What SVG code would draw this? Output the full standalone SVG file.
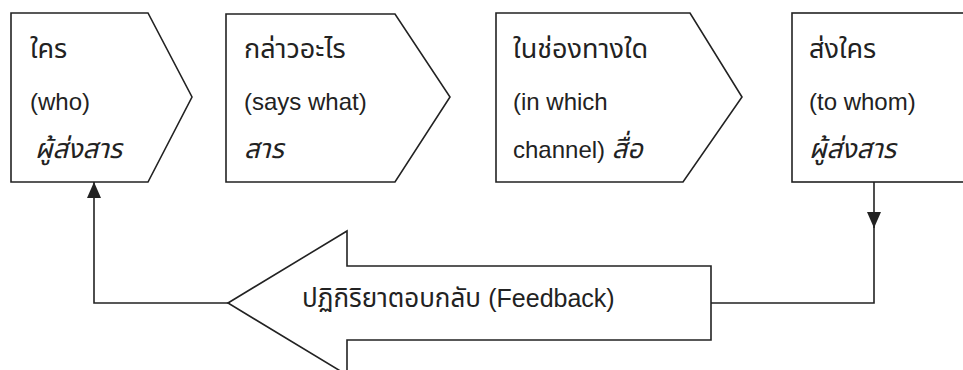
<svg xmlns="http://www.w3.org/2000/svg" width="963" height="370" viewBox="0 0 963 370">
<defs>
<style>
.box{fill:#fff;stroke:#222;stroke-width:1.6;stroke-linejoin:miter}
.ln{fill:none;stroke:#222;stroke-width:1.6}
text{font-family:"Liberation Sans","Noto Sans Thai","Noto Sans","DejaVu Sans",sans-serif;font-size:24px;fill:#222}
.th{font-size:27px}
.it{font-style:italic}
</style>
<marker id="ah" viewBox="0 0 16 14" refX="16" refY="7" markerWidth="16" markerHeight="14" markerUnits="userSpaceOnUse" orient="auto">
<path d="M0,0 L16,7 L0,14 Z" fill="#222"/>
</marker>
</defs>
<rect width="963" height="370" fill="#fff"/>
<g id="connectors">
<path class="ln" d="M228,303 L94,303 L94,182" marker-end="url(#ah)"/>
<path class="ln" d="M874,182 L874,228" marker-end="url(#ah)"/>
<path class="ln" d="M874,226 L874,303 L711,303"/>
</g>
<g id="who">
<polygon class="box" points="11,13 148,13 192,97 148,182 11,182"/>
<text x="30" y="58" class="th">ใคร</text>
<text x="30" y="110">(who)</text>
<text x="35" y="158" class="th it">ผู้ส่งสาร</text>
</g>
<g id="says-what">
<polygon class="box" points="226,14 395,14 450,97 395,182 226,182"/>
<text x="244" y="58" class="th">กล่าวอะไร</text>
<text x="244" y="110">(says what)</text>
<text x="244" y="158" class="th it">สาร</text>
</g>
<g id="channel">
<polygon class="box" points="496,13 690,13 742,97 683,182 496,182"/>
<text x="513" y="58" class="th">ในช่องทางใด</text>
<text x="513" y="110">(in which</text>
<text x="513" y="158">channel) <tspan class="th it">สื่อ</tspan></text>
</g>
<g id="to-whom">
<rect class="box" x="792" y="13" width="180" height="169"/>
<text x="809" y="58" class="th">ส่งใคร</text>
<text x="809" y="110">(to whom)</text>
<text x="809" y="158" class="th it">ผู้ส่งสาร</text>
</g>
<g id="feedback">
<polygon class="box" points="228,303 347,231 347,266 711,266 711,340 347,340 347,375"/>
<text x="302" y="307" style="font-size:26px">ปฏิกิริยาตอบกลับ <tspan style="font-size:25px">(Feedback)</tspan></text>
</g>
</svg>
